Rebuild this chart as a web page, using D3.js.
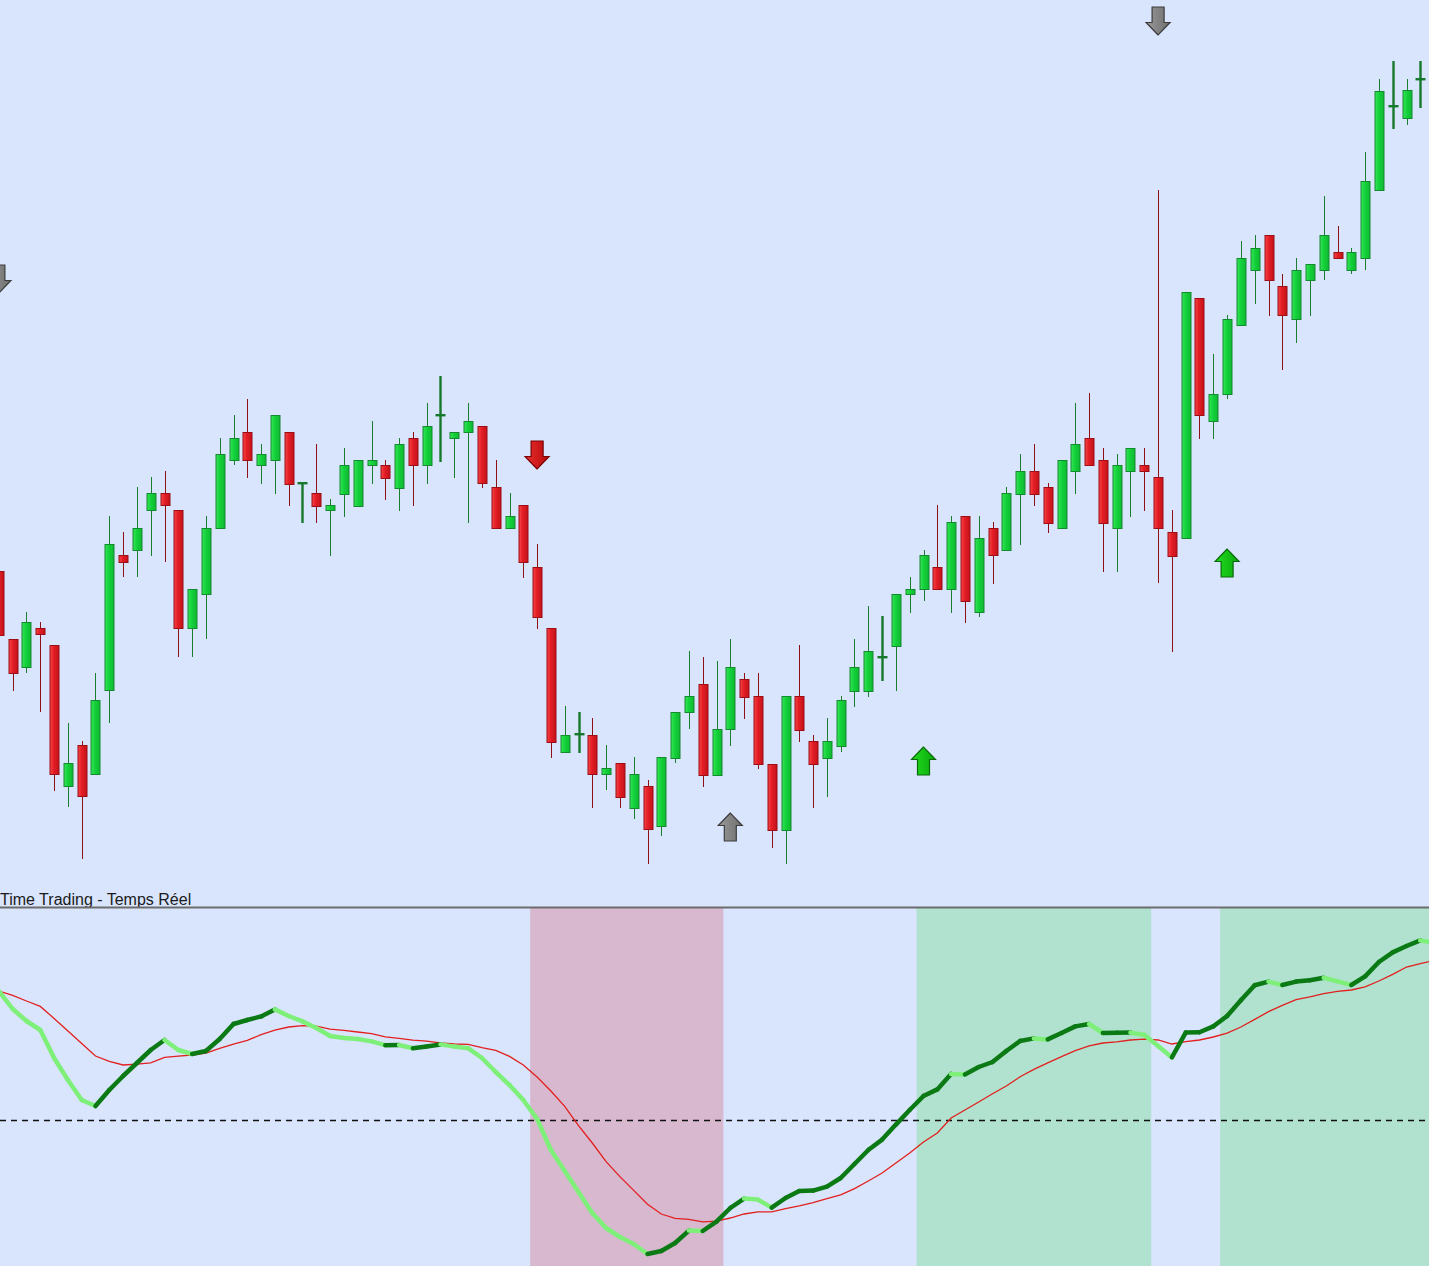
<!DOCTYPE html>
<html><head><meta charset="utf-8">
<script src="https://cdn.jsdelivr.net/npm/d3@7"></script>
<style>html,body{margin:0;padding:0;background:#d9e5fd;overflow:hidden}</style>
</head><body>
<svg id="c" width="1429" height="1266"></svg>
<script>
// ---- DATA ----
const opens = [6164.5,6130.5,6116.5,6136,6127.5,6057,6077.5,6063,6105,6172.5,
6175,6195,6203.5,6195,6136,6153,6186,6220,6234,6217.5,
6220,6234,6208,6203.5,6195,6203,6197,6217.5,6217.5,6206,
6231,6217.5,6242,6231,6234,6237,6206.5,6186,6197.5,6166.5,
6136,6074,6082.5,6082.5,6063,6068.5,6046,6057,6037,6071,
6094,6108,6062.5,6085.5,6110.5,6102,6068,6035,6102,6079.5,
6071,6077,6104.5,6104.5,6121,6127,6153,6155.5,6166.5,6155.5,
6192,6144,6186,6175,6203,6214.5,6206.5,6186,6214.5,6231,
6220,6186,6214.5,6217.5,6211.5,6184,6181,6301,6239.5,6253,
6287.5,6315,6332.5,6307,6290.5,6310,6315,6324,6315,6321,
6355,6396.5,6391,6410];
const closes = [6132.5,6113.5,6139,6133,6063,6068.5,6052,6100,6178,6169,
6186,6203.5,6197.5,6136,6155.5,6186,6223,6231,6220,6223,
6242.5,6208,6208.5,6197,6197.5,6217.5,6220,6220,6211,6228,
6217.5,6237,6242.5,6234,6239.5,6208.5,6186,6192,6169,6141.5,
6079,6082.5,6083,6063,6066,6051.5,6063,6035.5,6071.5,6094,
6102,6062.5,6085.5,6116.5,6101.5,6068,6035,6102,6085,6068,
6079.5,6100,6116.5,6124.5,6121.5,6153,6155.5,6172.5,6155.5,6189,
6149.5,6181,6172.5,6203.5,6214.5,6203,6188.5,6220,6228,6217.5,
6188.5,6217.5,6226,6214.5,6186,6172,6304,6242.5,6253,6290.5,
6321,6326,6310,6292.5,6315,6318,6332.5,6321,6324,6359.5,
6404.5,6397,6405,6410.5];
const highs = [6164.5,6130.5,6144,6139,6127.5,6088.5,6079.5,6113.5,6192,6184,
6206.5,6211.5,6214.5,6195,6155.5,6192,6231,6242.5,6250.5,6228,
6242.5,6234,6208.5,6228,6200.5,6226,6220,6239.5,6220,6231,
6234,6248.5,6262,6234,6248.5,6237,6220,6203.5,6197.5,6178,
6136,6097,6094,6091,6077.5,6068.5,6071.5,6060,6071.5,6094,
6124.5,6121.5,6119.5,6130.5,6113.5,6113.5,6068,6102,6127.5,6082.5,
6091,6102,6130.5,6147,6142,6153,6161.5,6175,6197.5,6192,
6192,6192,6189,6206.5,6223,6228,6208.5,6220,6248.5,6253.5,
6226,6223,6226,6226,6355,6195,6304,6301,6273,6292.5,
6329.5,6332.5,6332.5,6313,6321,6318,6352,6337,6326,6374,
6410.5,6419.5,6410.5,6419.5];
const lows = [6130,6104.5,6113.5,6094,6054.5,6046.5,6020.5,6063,6088.5,6161.5,
6161.5,6172,6169,6121.5,6121.5,6130.5,6186,6217.5,6211,6208,
6203,6197,6188.5,6188.5,6172,6191.5,6197,6208,6200,6194.5,
6197,6208,6219,6211,6188.5,6206,6186,6186,6161,6135.5,
6071,6074,6073.5,6046,6055,6046,6040.5,6018,6032,6068.5,
6085.5,6056.5,6062.5,6077,6090.5,6065.5,6026,6018,6079,6046,
6051.5,6074,6096.5,6101.5,6109.5,6104.5,6143.5,6149.5,6155.5,6143.5,
6138.5,6141.5,6158,6175,6177.5,6197,6183.5,6186,6203,6217.5,
6164,6164,6191.5,6194.5,6158.5,6124,6181,6230.5,6230.5,6250.5,
6287.5,6298,6292,6265,6278.5,6292,6310,6321,6313,6315,
6355,6385.5,6387.5,6396];

// oscillator (thick, two-colour) and its signal (thin red)
const oscillator = [64.5,55.5,49.5,45,31,20,10,7,15,22,
28.5,35,40,35,33,34.5,40.5,48,50,51.8,
55.3,52,49.3,46,42,41,40.5,39.3,37.4,37.5,
35.9,36.8,37.8,36.7,35.9,31,24,17.5,10,0.5,
-15,-25.5,-36,-46.5,-54,-58.5,-62,-67,-65.5,-61.5,
-55.3,-55.5,-50.8,-44,-39.3,-39.8,-43.8,-39,-35.5,-35.3,
-33.3,-29,-22,-15,-9.8,-2.3,5,12,15.3,23,
22.8,26.5,29,34.5,39.5,40.8,40.3,43.5,46.8,48,
43.5,43.6,43.7,42.5,37,31.3,43.7,43.9,46.8,52,
59.9,67.4,69.2,67.5,69.2,69.9,71.1,69.3,67.5,71.8,
79,83.8,87,89.8,88.5];
const signal = [64.5,62.3,59.5,56.8,50.8,44.5,38.3,32,29.3,27.5,
27.9,28.6,31.3,31.9,32.5,33.5,35.8,37.9,39.8,42.7,
44.9,46.5,47.2,46.9,45.4,44.8,44,43.2,41.6,40.8,
39.9,39.4,38.6,38,37.8,36.2,34.8,31.8,27.5,21.5,
14.5,6.8,-2.8,-11.5,-20.8,-28.3,-35.2,-42.1,-47,-49.2,
-49.7,-50.9,-50.6,-49,-47,-45.9,-45.9,-44.3,-42.9,-41.3,
-39.3,-37.4,-34.3,-30.5,-26.5,-21.5,-16.5,-11,-6.5,1,
5,9,13.1,17,21.6,25.3,28.6,31.7,34.7,37.1,
38.5,39.1,40,40.4,40,38,39.2,40,41.5,43.4,
46.5,50.3,54.2,57.3,60.2,61.6,63.2,64.3,65,66.6,
69.5,72.8,76.5,78.2,79.8];
const zeroLevel = 0;

// signal arrows: bar index, price of arrow tip, direction, kind
const arrowIdx   = [0, 39, 53, 67, 84, 89];
const arrowPrice = [6303.5, 6215.5, 6043.5, 6076.5, 6432.5, 6175.5];
const arrowDir   = ["down","down","up","up","down","up"];
const arrowKind  = ["neutral","sell","neutral","buy","neutral","buy"];

// shaded zones in the indicator pane (bar index ranges)
const zoneFrom = [39, 67, 89];
const zoneTo   = [53, 84, 105];
const zoneKind = ["sell","buy","buy"];

const paneTitle = "Time Trading - Temps Réel";

// ---- CHART ----
const W = 1429, H = 1266;
const svg = d3.select("#c");
const x  = d3.scaleLinear().domain([0, 103]).range([-1.1, 1420.3]);
const yP = d3.scaleLinear().domain([6000, 6450]).range([900, 0]);
const yI = d3.scaleLinear().domain([-73, 106]).range([1266, 908]);

const defs = svg.append("defs");
function grad(id, stops){
  const g = defs.append("linearGradient").attr("id", id)
    .attr("x1","0").attr("x2","1").attr("y1","0").attr("y2","0");
  stops.forEach(([o,c]) => g.append("stop").attr("offset",o).attr("stop-color",c));
}
grad("gUp", [[0,"#3be45c"],[0.4,"#14d33b"],[1,"#0eb832"]]);
grad("gDn", [[0,"#f4474a"],[0.4,"#e51e25"],[1,"#c3121a"]]);
grad("aRed", [[0,"#e83030"],[1,"#b80808"]]);
grad("aGrey", [[0,"#999"],[1,"#6e6e6e"]]);
grad("aGreen", [[0,"#22dd22"],[1,"#0aa80a"]]);

svg.append("rect").attr("width", W).attr("height", H).attr("fill", "#d9e5fd");

// indicator pane zones
const zoneColor = {sell:"#d7b8cf", buy:"#b0e2cf"};
svg.append("g").selectAll("rect").data(zoneFrom.map((f,k)=>({f, t:zoneTo[k], kind:zoneKind[k]})))
  .join("rect")
  .attr("x", d => x(d.f - 0.5))
  .attr("width", d => x(d.t - 0.5) - x(d.f - 0.5))
  .attr("y", yI(106)).attr("height", yI(-73) - yI(106))
  .attr("fill", d => zoneColor[d.kind]);

// candles
const candles = d3.range(opens.length).map(i => ({i, o:opens[i], h:highs[i], l:lows[i], c:closes[i]}));
const cg = svg.append("g");
candles.forEach(d => {
  const up = d.c >= d.o;
  const cx = Math.round(x(d.i));
  const yt = yP(Math.max(d.o, d.c)), yb = yP(Math.min(d.o, d.c));
  const doji = (yb - yt) < 1.5;
  const wickCol = up ? "#1a7d30" : "#8e1016";
  cg.append("line")
    .attr("x1", cx + 0.5).attr("x2", cx + 0.5)
    .attr("y1", yP(d.h)).attr("y2", yP(d.l))
    .attr("stroke", doji ? "#16782a" : wickCol)
    .attr("stroke-width", doji ? 2.4 : 1);
  if (doji) {
    cg.append("rect").attr("x", cx - 4.5).attr("width", 10)
      .attr("y", Math.round(yt) - 1).attr("height", 2.4)
      .attr("fill", "#16782a");
  } else {
    cg.append("rect")
      .attr("x", cx - 4).attr("width", 9)
      .attr("y", Math.round(yt) + 0.5).attr("height", Math.max(1, Math.round(yb) - Math.round(yt)))
      .attr("fill", up ? "url(#gUp)" : "url(#gDn)")
      .attr("stroke", up ? "#148a2e" : "#9c0e15")
      .attr("stroke-width", 1);
  }
});

// arrows
const arrowFill = {sell:"url(#aRed)", neutral:"url(#aGrey)", buy:"url(#aGreen)"};
const arrowStroke = {sell:"#7a0000", neutral:"#3c3c3c", buy:"#0a6a0a"};
const downPath = "M0,0 L-12,-12.5 L-6,-12.5 L-6,-28 L6,-28 L6,-12.5 L12,-12.5 Z";
svg.append("g").selectAll("path").data(arrowIdx.map((i,k)=>({i, p:arrowPrice[k], dir:arrowDir[k], kind:arrowKind[k]})))
  .join("path")
  .attr("d", downPath)
  .attr("transform", d => `translate(${x(d.i)},${yP(d.p)}) scale(1,${d.dir === "down" ? 1 : -1})`)
  .attr("fill", d => arrowFill[d.kind])
  .attr("stroke", d => arrowStroke[d.kind])
  .attr("stroke-width", 1.2)
  .attr("stroke-linejoin", "miter");

// title and pane separator
svg.append("text").attr("x", 0).attr("y", 905)
  .attr("font-family", "'Liberation Sans', Arial, sans-serif").attr("font-size", 16)
  .attr("fill", "#1a1a1a").text(paneTitle);
svg.append("line").attr("x1", 0).attr("x2", W).attr("y1", 907.5).attr("y2", 907.5)
  .attr("stroke", "#6c6c6c").attr("stroke-width", 2);

// zero line
svg.append("line").attr("x1", 0).attr("x2", W)
  .attr("y1", Math.round(yI(zeroLevel)) + 0.5).attr("y2", Math.round(yI(zeroLevel)) + 0.5)
  .attr("stroke", "#111").attr("stroke-width", 1.3).attr("stroke-dasharray", "6,5");

// signal line
const ig = svg.append("g");
ig.append("path").datum(signal)
  .attr("d", d3.line().x((v,i) => x(i)).y(v => yI(v)))
  .attr("fill", "none").attr("stroke", "#e2201e").attr("stroke-width", 1.3);

// oscillator, coloured by direction
const segs = d3.range(1, oscillator.length).map(i => ({i, a:oscillator[i-1], b:oscillator[i]}));
ig.selectAll("line.osc").data(segs).join("line").attr("class","osc")
  .attr("x1", d => x(d.i - 1)).attr("x2", d => x(d.i))
  .attr("y1", d => yI(d.a)).attr("y2", d => yI(d.b))
  .attr("stroke", d => d.b >= d.a ? "#0b7a14" : "#7ef07a")
  .attr("stroke-width", 4.5).attr("stroke-linecap", "round");
</script>
</body></html>
